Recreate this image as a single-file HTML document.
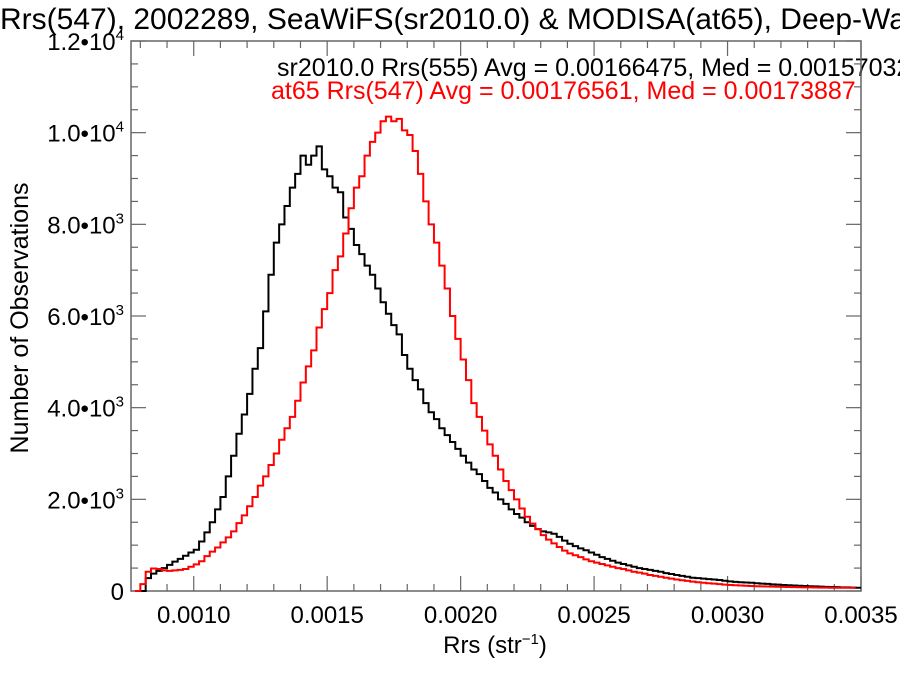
<!DOCTYPE html>
<html><head><meta charset="utf-8"><style>
body{margin:0;background:#fff;overflow:hidden;}
svg{display:block;font-family:"Liberation Sans",sans-serif;}
</style></head><body>
<svg id="chart" width="900" height="675" viewBox="0 0 900 675">
<text x="0" y="29" font-size="30" fill="#000">Rrs(547), 2002289, SeaWiFS(sr2010.0) &amp; MODISA(at65), Deep-Water</text>
<text x="277" y="76" font-size="25" fill="#000">sr2010.0 Rrs(555) Avg = 0.00166475, Med = 0.00157032</text>
<text x="271" y="99" font-size="25" fill="#ff0000">at65 Rrs(547) Avg = 0.00176561, Med = 0.00173887</text>
<text x="495" y="653" font-size="24" text-anchor="middle">Rrs (str<tspan font-size="15" dy="-9">−1</tspan><tspan dy="9">)</tspan></text>
<text transform="translate(28,318) rotate(-90)" font-size="25" text-anchor="middle">Number of Observations</text>
<g id="axes"></g>
<g id="series"></g>
</svg>
<script>
const binStart = 0.00078;
const binWidth = 0.00002;
const blackCounts = [0,0,280,380,440,500,570,640,700,770,840,900,1080,1280,1500,1780,2050,2500,2950,3430,3850,4300,4850,5300,6100,6900,7600,8000,8400,8800,9100,9500,9300,9500,9700,9200,9050,8800,8700,8150,7900,7550,7350,7100,6900,6600,6300,6050,5800,5600,5150,4850,4600,4400,4100,3900,3750,3550,3400,3250,3100,2950,2800,2650,2550,2400,2250,2150,2000,1900,1780,1680,1600,1500,1420,1350,1300,1280,1250,1180,1100,1030,980,930,890,840,790,740,700,660,620,590,560,530,500,480,460,440,420,390,370,350,330,310,290,280,270,260,250,240,225,210,200,190,185,180,170,160,155,145,140,130,125,120,115,110,105,100,95,90,88,85,80,78,75,70];
const redCounts = [0,150,420,490,480,450,440,450,460,480,530,580,650,760,860,950,1060,1170,1300,1480,1650,1850,2050,2300,2500,2750,3000,3300,3550,3800,4150,4550,4900,5250,5750,6150,6500,7000,7300,7800,8350,8800,9050,9500,9800,10000,10250,10350,10250,10300,10050,9950,9600,9100,8500,8000,7600,7100,6600,6000,5500,5050,4600,4100,3800,3500,3200,2950,2650,2400,2200,2000,1800,1620,1470,1350,1220,1120,1040,960,880,820,780,740,690,650,620,590,560,530,500,480,450,420,400,380,350,330,310,290,270,250,235,220,205,190,180,170,160,150,140,130,125,120,115,110,105,100,98,95,92,90,88,85,82,80,78,76,75,74,72,71,70,70,70];
const xTickValues = [0.0010,0.0015,0.0020,0.0025,0.0030,0.0035];
const xTickLabels = ["0.0010","0.0015","0.0020","0.0025","0.0030","0.0035"];
const yTickValues = [0,2000,4000,6000,8000,10000,12000];
const yTickMantissa = ["0","2.0","4.0","6.0","8.0","1.0","1.2"];
const yTickExp = ["","3","3","3","3","4","4"];

const L=131,R=861,T=41,B=591;
const xMin=0.000765,xMax=0.0035,yMax=12000;
const X=v=>L+(v-xMin)/(xMax-xMin)*(R-L);
const Y=v=>B-v/yMax*(B-T);
const NS="http://www.w3.org/2000/svg";
const axes=document.getElementById('axes');
const series=document.getElementById('series');
function mk(tag,attrs,parent){const e=document.createElementNS(NS,tag);for(const k in attrs)e.setAttribute(k,attrs[k]);parent.appendChild(e);return e;}

const frame=mk('rect',{x:L,y:T,width:R-L,height:B-T,fill:'none',stroke:'#666','stroke-width':1.5},axes);



for(let k=8;k<=35;k++){const v=k*0.0001;const x=X(v);const major=(k%5===0);const len=major?15:7;
 const t1=mk('line',{x1:x,y1:B,x2:x,y2:B-len,stroke:'#666','stroke-width':1.2},axes);
 
 
 const t2=mk('line',{x1:x,y1:T,x2:x,y2:T+len,stroke:'#666','stroke-width':1.2},axes);
 
 }
xTickValues.forEach((v,i)=>{const t=mk('text',{x:X(v),y:623,'font-size':24,'text-anchor':'middle'},axes);t.textContent=xTickLabels[i];
 
 });
for(let v=0;v<=12000;v+=500){const y=Y(v);const major=(v%2000===0);const len=major?15:7;
 const t1=mk('line',{x1:L,y1:y,x2:L+len,y2:y,stroke:'#666','stroke-width':1.2},axes);
 
 
 const t2=mk('line',{x1:R,y1:y,x2:R-len,y2:y,stroke:'#666','stroke-width':1.2},axes);
 
 }
yTickValues.forEach((v,i)=>{const t=mk('text',{x:124,y:Y(v)+9,'font-size':24,'text-anchor':'end'},axes);
 
 
 if(yTickExp[i]){t.innerHTML=yTickMantissa[i]+'•10<tspan font-size="15" dy="-10">'+yTickExp[i]+'</tspan>';}else{t.textContent=yTickMantissa[i];}});

function stepPath(counts){let d='';counts.forEach((c,i)=>{const x0=X(binStart+i*binWidth),x1=X(binStart+(i+1)*binWidth),y=Y(c);d+=(i===0?'M'+x0+','+y:'L'+x0+','+y)+'L'+x1+','+y;});return d;}
const pb=mk('path',{d:stepPath(blackCounts),fill:'none',stroke:'#000','stroke-width':2},series);


const pr=mk('path',{d:stepPath(redCounts),fill:'none',stroke:'#ff0000','stroke-width':2},series);


</script>
</body></html>
